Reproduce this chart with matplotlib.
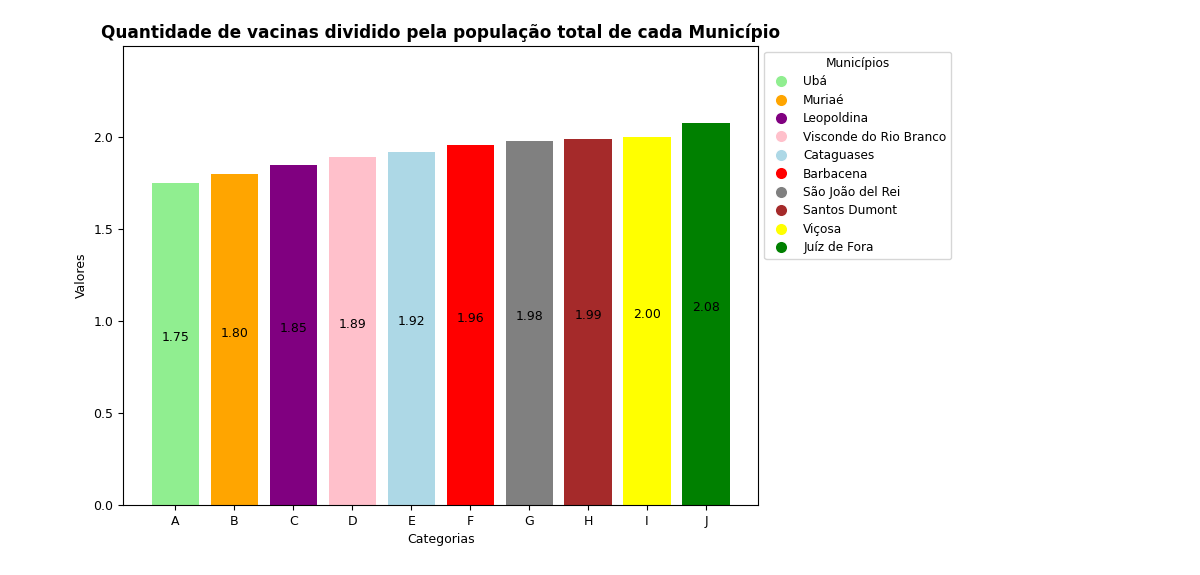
import matplotlib
matplotlib.use("Agg")
import matplotlib.pyplot as plt
from matplotlib.lines import Line2D

categorias = ["A", "B", "C", "D", "E", "F", "G", "H", "I", "J"]
valores = [1.75, 1.80, 1.85, 1.89, 1.92, 1.96, 1.98, 1.99, 2.00, 2.08]
municipios = ["Ubá", "Muriaé", "Leopoldina", "Visconde do Rio Branco", "Cataguases",
              "Barbacena", "São João del Rei", "Santos Dumont", "Viçosa", "Juíz de Fora"]
cores = ["lightgreen", "orange", "purple", "pink", "lightblue",
         "red", "gray", "brown", "yellow", "green"]

plt.rcParams["font.size"] = 9
fig = plt.figure(figsize=(12, 5.75), dpi=100)
ax = fig.add_axes([0.1025, 0.1217, 0.5295, 0.7983])

bars = ax.bar(categorias, valores, color=cores)
for b, v in zip(bars, valores):
    ax.text(b.get_x() + b.get_width() / 2, v / 2, f"{v:.2f}", ha="center", va="bottom", fontsize=9)

ax.set_ylim(0, max(valores) * 1.2)
ax.tick_params(labelsize=9)
ax.set_xlabel("Categorias", fontsize=9)
ax.set_ylabel("Valores", fontsize=9)
ax.set_title("Quantidade de vacinas dividido pela população total de cada Município",
             fontsize=12.2, fontweight="bold", pad=6)

handles = [Line2D([0], [0], marker="o", color="w", markerfacecolor=c, markersize=9, label=m)
           for c, m in zip(cores, municipios)]
ax.legend(handles=handles, title="Municípios", loc="upper left", bbox_to_anchor=(1.0, 1.0),
          fontsize=8.7, title_fontsize=8.7, labelspacing=0.45)

fig.savefig("out.png", dpi=100)
